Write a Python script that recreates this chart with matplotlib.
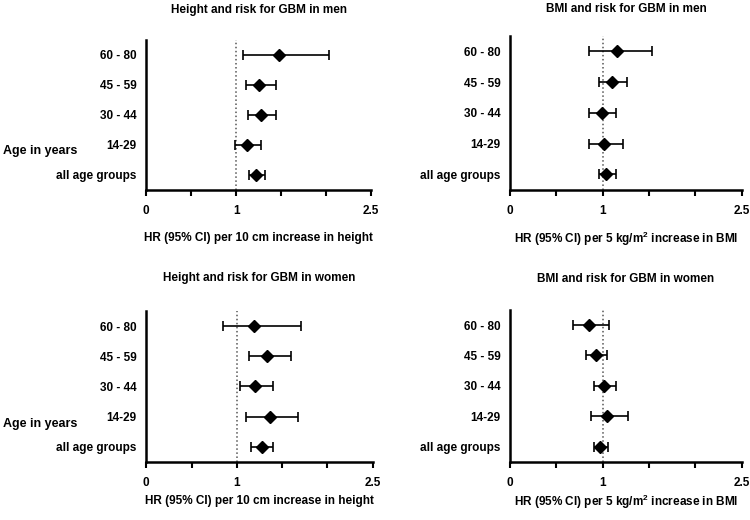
import numpy as np
import matplotlib
matplotlib.use('Agg')
import matplotlib.pyplot as plt

plt.rcParams['font.family'] = ['Liberation Sans', 'DejaVu Sans']
plt.rcParams['font.weight'] = 'bold'
plt.rcParams['mathtext.fontset'] = 'custom'
plt.rcParams['mathtext.rm'] = 'Liberation Sans:bold'
plt.rcParams['mathtext.bf'] = 'Liberation Sans:bold'

# 年龄组（从下到上）
groups = ['all age groups', '14-29', '30 - 44', '45 - 59', '60 - 80']

# 身高 - 男性
h_men_hr = [1.215, 1.122, 1.278, 1.252, 1.474]
h_men_lo = [1.141, 0.989, 1.130, 1.107, 1.074]
h_men_hi = [1.315, 1.278, 1.437, 1.437, 2.026]

# BMI - 男性
b_men_hr = [1.039, 1.018, 0.989, 1.097, 1.151]
b_men_lo = [0.960, 0.856, 0.856, 0.960, 0.856]
b_men_hi = [1.143, 1.223, 1.143, 1.262, 1.536]

# 身高 - 女性
h_wom_hr = [1.275, 1.366, 1.204, 1.336, 1.190]
h_wom_lo = [1.154, 1.099, 1.036, 1.135, 0.842]
h_wom_hi = [1.402, 1.677, 1.402, 1.597, 1.707]

# BMI - 女性
b_wom_hr = [0.970, 1.046, 1.018, 0.924, 0.852]
b_wom_lo = [0.910, 0.874, 0.910, 0.816, 0.683]
b_wom_hi = [1.054, 1.270, 1.143, 1.043, 1.071]

x_ticks = [0, 0.5, 1, 1.5, 2, 2.5]
x_ticklabels = ['0', '', '1', '', '', '2.5']

h_label = 'HR (95% CI) per 10 cm increase in height'
b_label = r'HR (95% CI) per 5 kg/m$^{\mathbf{2}}$ increase in BMI'

# 位置, 标题, x轴标签, 数据, 标题间距, x标签间距
panels = [
    ([0.195, 0.635, 0.300, 0.2885], 'Height and risk for GBM in men',
     h_label, h_men_hr, h_men_lo, h_men_hi, 19.5, 11),
    ([0.680, 0.635, 0.309, 0.296], 'BMI and risk for GBM in men',
     b_label, b_men_hr, b_men_lo, b_men_hi, 17, 9.5),
    ([0.195, 0.112, 0.302, 0.290], 'Height and risk for GBM in women',
     h_label, h_wom_hr, h_wom_lo, h_wom_hi, 21.5, 4.5),
    ([0.680, 0.112, 0.309, 0.292], 'BMI and risk for GBM in women',
     b_label, b_wom_hr, b_wom_lo, b_wom_hi, 20, 3),
]

fig = plt.figure(figsize=(7.5, 5.2), dpi=100)
for rect, title, xlabel, hr, lo, hi, tpad, lpad in panels:
    ax = fig.add_axes(rect)
    y = np.arange(len(groups))
    hr = np.array(hr)
    err = [hr - np.array(lo), np.array(hi) - hr]
    ax.axvline(1, color='#555555', linestyle=':', linewidth=1.1, zorder=1)
    ax.errorbar(hr, y, xerr=err, fmt='D', color='black', ms=6,
                elinewidth=1.2, capsize=3.8, capthick=1.2, zorder=3)
    ax.set_xlim(0, 2.5)
    ax.set_ylim(-0.5, 4.5)
    ax.set_xticks(x_ticks)
    ax.set_xticklabels(x_ticklabels, fontsize=8.5, fontweight='bold')
    ax.set_yticks(y)
    ax.set_yticklabels(groups, fontsize=8.5, fontweight='bold')
    ax.tick_params(axis='y', length=0, pad=7)
    ax.tick_params(axis='x', direction='out', length=4, width=1.5, pad=7)
    for s in ['top', 'right']:
        ax.spines[s].set_visible(False)
    for s in ['left', 'bottom']:
        ax.spines[s].set_linewidth(1.8)
    ax.set_title(title, fontsize=8.5, fontweight='bold', pad=tpad)
    ax.set_xlabel(xlabel, fontsize=8.5, fontweight='bold', labelpad=lpad)

# "Age in years" 只在左侧两个面板
fig.text(0.004, 1 - 151 / 520, 'Age in years', fontsize=9, fontweight='bold', va='center')
fig.text(0.004, 1 - 424 / 520, 'Age in years', fontsize=9, fontweight='bold', va='center')

plt.savefig('out.png', dpi=100)
